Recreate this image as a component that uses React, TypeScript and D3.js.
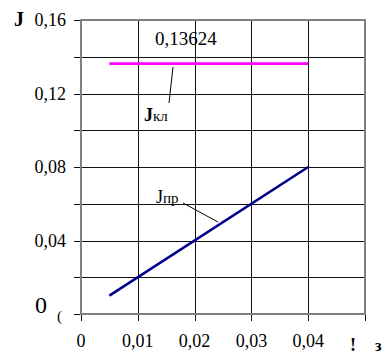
import React from "react";
import * as d3 from "d3";

const xValues = [0.005, 0.04];
const jprValues = [0.01, 0.08];
const jklValues = [0.13624, 0.13624];
const xTicks = [0, 0.01, 0.02, 0.03, 0.04, 0.05];
const xTickLabels = ["0", "0,01", "0,02", "0,03", "0,04", ""];
const yGrid = [0, 0.02, 0.04, 0.06, 0.08, 0.1, 0.12, 0.14, 0.16];
const yTicks = [0.04, 0.08, 0.12, 0.16];
const yTickLabels = ["0,04", "0,08", "0,12", "0,16"];
const jklLabel = "0,13624";

const ts: React.CSSProperties = { fontFamily: "'Liberation Serif', 'Times New Roman', serif" };

export default function App() {
  const W = 390;
  const H = 360;
  const x = d3.scaleLinear().domain([0, 0.05]).range([81, 365]);
  const y = d3.scaleLinear().domain([0, 0.16]).range([314, 20]);
  const cx = (v: number) => Math.round(x(v)) + 0.5;
  const cy = (v: number) => Math.round(y(v)) + 0.5;

  const line = d3
    .line<number>()
    .x((_, i) => x(xValues[i]))
    .y((d) => y(d));

  return (
    <svg
      width={W}
      height={H}
      style={{ position: "absolute", left: 0, top: 0, background: "#fff" }}
    >
      {yGrid.map((v) => (
        <line key={"h" + v} x1={74} x2={x(0.05)} y1={cy(v)} y2={cy(v)} stroke="#111" strokeWidth={1} />
      ))}
      {xTicks.map((v) => (
        <line key={"v" + v} x1={cx(v)} x2={cx(v)} y1={y(0.16)} y2={y(0) + 7} stroke="#111" strokeWidth={1} />
      ))}
      <rect
        x={x(0)}
        y={y(0.16)}
        width={x(0.05) - x(0)}
        height={y(0) - y(0.16)}
        fill="none"
        stroke="#808080"
        strokeWidth={2}
      />
      <path d={line(jklValues) || ""} fill="none" stroke="#ff00ff" strokeWidth={2.6} />
      <path d={line(jprValues) || ""} fill="none" stroke="#00008b" strokeWidth={2.6} />

      <line x1={173} y1={67} x2={169} y2={103} stroke="#000" strokeWidth={1} />
      <line x1={183} y1={203} x2={218} y2={222} stroke="#000" strokeWidth={1} />

      <text x={155} y={45} fontSize={19} fill="#000" style={ts}>
        {jklLabel}
      </text>
      <text x={144} y={121} fontSize={18} fill="#000" style={ts}>
        <tspan fontWeight="bold">J</tspan>
        <tspan fontSize={15}>кл</tspan>
      </text>
      <text x={156} y={203} fontSize={18} fill="#000" style={ts}>
        <tspan>J</tspan>
        <tspan fontSize={15}>пр</tspan>
      </text>

      {yTicks.map((v, i) => (
        <text key={"yl" + v} x={66} y={y(v) + 6} fontSize={18} textAnchor="end" fill="#000" style={ts}>
          {yTickLabels[i]}
        </text>
      ))}
      <text x={35} y={313} fontSize={24} fill="#000" style={ts}>
        0
      </text>
      <text x={57} y={321} fontSize={15} fill="#000" style={ts}>
        (
      </text>
      <text x={14} y={26} fontSize={20} fontWeight="bold" fill="#000" style={ts}>
        J
      </text>

      {xTicks.map((v, i) => (
        <text key={"xl" + v} x={x(v)} y={347} fontSize={18} textAnchor="middle" fill="#000" style={ts}>
          {xTickLabels[i]}
        </text>
      ))}
      <text x={350} y={351} fontSize={18} fontWeight="bold" fill="#000" style={ts}>
        !
      </text>
      <text x={375} y={351} fontSize={16} fontWeight="bold" fill="#000" style={ts}>
        з
      </text>
    </svg>
  );
}
